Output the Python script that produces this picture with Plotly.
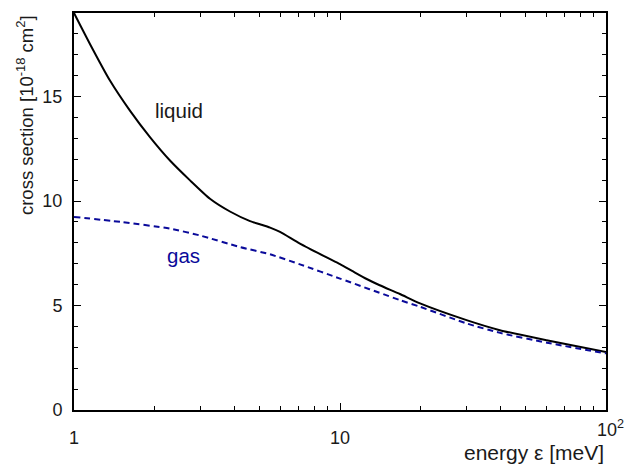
import plotly.graph_objects as go

# energy (meV) and cross sections (1e-18 cm^2)
liquid_energy = [1.0, 1.148, 1.365, 1.623, 1.93, 2.295, 2.73, 3.245, 3.858, 4.59, 5.0, 5.46, 5.95,
                 7.07, 8.91, 10.0, 11.2, 12.6, 14.1, 16.8, 20.0, 29.9, 39.9, 59.8, 100.0]
liquid_xs = [19.0, 17.52, 15.77, 14.33, 13.06, 11.94, 10.99, 10.11, 9.5, 9.04, 8.89, 8.73, 8.52,
             7.96, 7.3, 6.98, 6.63, 6.27, 5.97, 5.55, 5.1, 4.3, 3.82, 3.34, 2.78]

gas_energy = [1.0, 1.5, 2.295, 2.98, 4.2, 5.46, 7.07, 10.0, 16.8, 20.0, 30.0, 40.0, 60.0, 100.0]
gas_xs = [9.24, 9.0, 8.68, 8.35, 7.8, 7.45, 6.97, 6.29, 5.26, 4.94, 4.14, 3.69, 3.22, 2.71]

x_tickvals = [1, 10, 100]
x_ticktext = ["1", "10", ""]
x_last_label = "10<sup>2</sup>"
x_minor_vals = [2, 3, 4, 5, 6, 7, 8, 9, 20, 30, 40, 50, 60, 70, 80, 90]
y_tickvals = [0, 5, 10, 15]

FONT = "Liberation Sans, Arial, Helvetica, sans-serif"
TXT = "#1a1a1a"
BLUE = "#0a0a9a"

fig = go.Figure()
fig.add_trace(go.Scatter(x=liquid_energy, y=liquid_xs, mode="lines",
                         line=dict(color="black", width=2, shape="spline", smoothing=0.6), showlegend=False))
fig.add_trace(go.Scatter(x=gas_energy, y=gas_xs, mode="lines",
                         line=dict(color=BLUE, width=2, dash="6px,4px", shape="spline", smoothing=0.6), showlegend=False))

fig.add_annotation(x=0.393, y=14.33, xref="x", yref="y", text="liquid", showarrow=False,
                   font=dict(family=FONT, size=20.5, color=TXT))
fig.add_annotation(x=0.412, y=7.4, xref="x", yref="y", text="gas", showarrow=False,
                   font=dict(family=FONT, size=20.5, color=BLUE))
fig.add_annotation(x=1.0, y=-0.108, xref="paper", yref="paper", xanchor="right", yanchor="middle",
                   text="energy ε [meV]", showarrow=False, font=dict(family=FONT, size=21, color=TXT))
fig.add_annotation(x=-0.092, y=1.0, xref="paper", yref="paper", xanchor="center", yanchor="top",
                   text="cross section [10<sup>-18</sup> cm<sup>2</sup>]", textangle=-90, showarrow=False,
                   font=dict(family=FONT, size=18.5, color=TXT))
fig.add_annotation(x=0.979, y=-0.012, xref="paper", yref="paper", xanchor="left", yanchor="top",
                   text=x_last_label, showarrow=False, font=dict(family=FONT, size=18, color=TXT))

fig.update_xaxes(type="log", range=[0, 2], tickvals=x_tickvals, ticktext=x_ticktext,
                 ticks="inside", ticklen=7, tickwidth=1, tickcolor="black", ticklabelstandoff=10,
                 minor=dict(ticks="inside", ticklen=4, tickcolor="black", tickvals=x_minor_vals, showgrid=False),
                 showline=True, linecolor="black", linewidth=2, mirror="ticks", showgrid=False, zeroline=False,
                 tickfont=dict(family=FONT, size=18, color=TXT))
fig.update_yaxes(range=[0, 19], tickvals=y_tickvals,
                 ticks="inside", ticklen=7, tickwidth=1, tickcolor="black", ticklabelstandoff=6,
                 minor=dict(ticks="inside", ticklen=4, tickcolor="black", dtick=1, showgrid=False),
                 showline=True, linecolor="black", linewidth=2, mirror="ticks", showgrid=False, zeroline=False,
                 tickfont=dict(family=FONT, size=18, color=TXT))

fig.update_layout(width=628, height=466, margin=dict(l=74, r=22, t=13, b=56),
                  plot_bgcolor="white", paper_bgcolor="white")

fig.write_html("out.html", config={"displayModeBar": False},
               post_script="document.body.style.margin='0';document.body.style.overflow='hidden';")
